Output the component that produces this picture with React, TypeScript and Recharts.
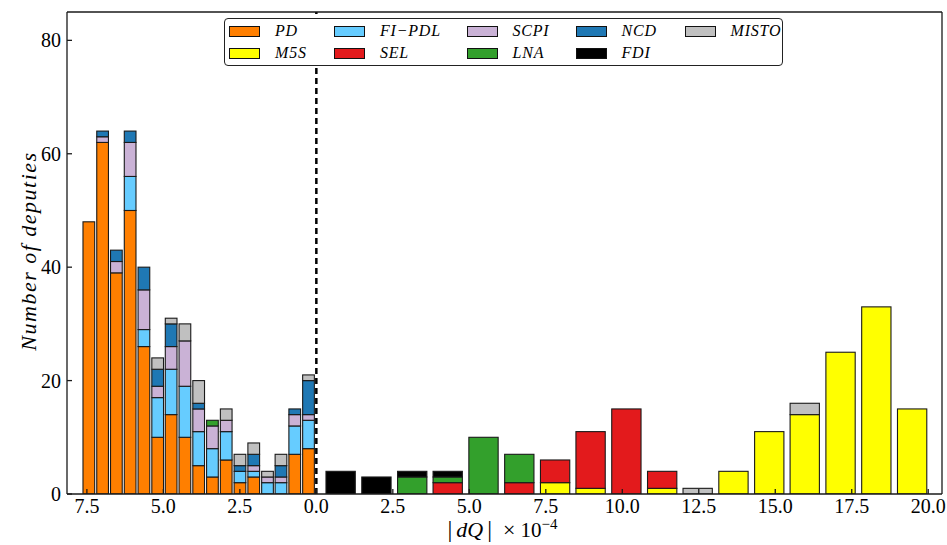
import React from 'react';
import { BarChart, Bar, XAxis, YAxis, ReferenceLine, Legend } from 'recharts';

// bin centres (left half is the mirrored side)
const binCenters = [
  -7.44, -6.99, -6.54, -6.09, -5.64, -5.19, -4.75, -4.3, -3.85, -3.4, -2.95, -2.5, -2.05, -1.6, -1.16, -0.71, -0.26,
  0.79, 1.96, 3.13, 4.29, 5.46, 6.63, 7.8, 8.96, 10.13, 11.3, 12.46, 13.63, 14.8, 15.96, 17.13, 18.3, 19.47,
];

const partyKeys = ['PD', 'M5S', 'FIPDL', 'SEL', 'SCPI', 'LNA', 'NCD', 'FDI', 'MISTO'];
const partyNames = ['PD', 'M5S', 'FI\u2212PDL', 'SEL', 'SCPI', 'LNA', 'NCD', 'FDI', 'MISTO'];
const partyColors = ['#ff7f00', '#ffff00', '#66ccff', '#e31a1c', '#cab2d6', '#33a02c', '#1f78b4', '#000000', '#c0c0c0'];

const PD = [48, 62, 39, 50, 26, 10, 14, 10, 5, 3, 6, 2, 3, 0, 0, 7, 8, 0, 0, 0, 0, 0, 0, 0, 0, 0, 0, 0, 0, 0, 0, 0, 0, 0];
const M5S = [0, 0, 0, 0, 0, 0, 0, 0, 0, 0, 0, 0, 0, 0, 0, 0, 0, 0, 0, 0, 0, 0, 0, 2, 1, 0, 1, 0, 4, 11, 14, 25, 33, 15];
const FIPDL = [0, 0, 0, 6, 3, 7, 8, 9, 6, 5, 5, 2, 1, 2, 2, 5, 5, 0, 0, 0, 0, 0, 0, 0, 0, 0, 0, 0, 0, 0, 0, 0, 0, 0];
const SEL = [0, 0, 0, 0, 0, 0, 0, 0, 0, 0, 0, 0, 0, 0, 0, 0, 0, 0, 0, 0, 2, 0, 2, 4, 10, 15, 3, 0, 0, 0, 0, 0, 0, 0];
const SCPI = [0, 1, 2, 6, 7, 2, 4, 8, 4, 4, 2, 0, 1, 1, 1, 2, 1, 0, 0, 0, 0, 0, 0, 0, 0, 0, 0, 0, 0, 0, 0, 0, 0, 0];
const LNA = [0, 0, 0, 0, 0, 0, 0, 0, 0, 1, 0, 0, 0, 0, 0, 0, 0, 0, 0, 3, 1, 10, 5, 0, 0, 0, 0, 0, 0, 0, 0, 0, 0, 0];
const NCD = [0, 1, 2, 2, 4, 3, 4, 0, 1, 0, 0, 1, 2, 0, 2, 1, 6, 0, 0, 0, 0, 0, 0, 0, 0, 0, 0, 0, 0, 0, 0, 0, 0, 0];
const FDI = [0, 0, 0, 0, 0, 0, 0, 0, 0, 0, 0, 0, 0, 0, 0, 0, 0, 4, 3, 1, 1, 0, 0, 0, 0, 0, 0, 0, 0, 0, 0, 0, 0, 0];
const MISTO = [0, 0, 0, 0, 0, 2, 1, 3, 4, 0, 2, 2, 2, 1, 2, 0, 1, 0, 0, 0, 0, 0, 0, 0, 0, 0, 0, 1, 0, 0, 2, 0, 0, 0];

const xTicks = [-7.5, -5, -2.5, 0, 2.5, 5, 7.5, 10, 12.5, 15, 17.5, 20];
const xTickLabels = ['7.5', '5.0', '2.5', '0.0', '2.5', '5.0', '7.5', '10.0', '12.5', '15.0', '17.5', '20.0'];
const yTicks = [0, 20, 40, 60, 80];

const series = [PD, M5S, FIPDL, SEL, SCPI, LNA, NCD, FDI, MISTO];
const rows = binCenters.map((x, i) => {
  const row: Record<string, number> = { x };
  partyKeys.forEach((k, j) => (row[k] = series[j][i]));
  return row;
});

const FONT = '"Liberation Serif", "DejaVu Serif", serif';
const EDGE = '#1a1a1a';
const X_DOMAIN = [-8.15, 20.45];

const BarShape = (props: any) => {
  const { x, y, width, height, fill, payload } = props;
  if (!height || height <= 0) return <g />;
  const w = payload.x < 0 ? 11.7 : 29.3;
  const cx = x + width / 2;
  return <rect x={cx - w / 2} y={y} width={w} height={height} fill={fill} stroke={EDGE} strokeWidth={1.1} />;
};

const fmtX = (v: number) => {
  const i = xTicks.indexOf(v);
  return i >= 0 ? xTickLabels[i] : '';
};

const XLabel = (props: any) => {
  const vb = props.viewBox;
  const cx = vb.x + vb.width / 2 - 2;
  return (
    <text x={cx} y={vb.y + 43} textAnchor="middle" fontFamily={FONT} fontSize={21} fill="#000">
      <tspan fontSize={24}>|</tspan>
      <tspan dx={4} fontStyle="italic" fontSize={22}>dQ</tspan>
      <tspan dx={4} fontSize={24}>|</tspan>
      <tspan dx={11} fontSize={22}>{'\u00d7'}</tspan>
      <tspan dx={5}>10</tspan>
      <tspan dy={-8} fontSize={15}>{'\u22124'}</tspan>
    </text>
  );
};

const YLabel = (props: any) => {
  const vb = props.viewBox;
  const x = vb.x + 11;
  const y = vb.y + vb.height / 2 - 2;
  return (
    <text
      x={x}
      y={y}
      transform={`rotate(-90, ${x}, ${y})`}
      textAnchor="middle"
      dominantBaseline="central"
      fontFamily={FONT}
      fontStyle="italic"
      fontSize={22}
      letterSpacing={1.5}
      fill="#000"
    >
      Number of deputies
    </text>
  );
};

const LegendBox = () => (
  <div
    style={{
      border: '1px solid #222',
      borderRadius: 4,
      background: '#fff',
      height: 48,
      boxSizing: 'border-box',
      padding: '1px 0 0 4px',
      display: 'grid',
      gridAutoFlow: 'column',
      gridTemplateRows: '22px 22px',
      gridTemplateColumns: '105px 132.5px 109px 109px auto',
      alignItems: 'center',
    }}
  >
    {partyNames.map((n, i) => (
      <div key={n} style={{ display: 'flex', alignItems: 'center' }}>
        <span
          style={{
            width: 31,
            height: 11,
            boxSizing: 'border-box',
            background: partyColors[i],
            border: '1px solid #111',
            display: 'inline-block',
          }}
        />
        <span
          style={{
            marginLeft: 15,
            fontFamily: FONT,
            fontStyle: 'italic',
            fontSize: 16,
            letterSpacing: 0.8,
            lineHeight: 1,
            color: '#000',
          }}
        >
          {n}
        </span>
      </div>
    ))}
  </div>
);

export default function App() {
  return (
    <div style={{ position: 'fixed', left: 0, top: 0, width: 947, height: 545, background: '#fff' }}>
      <BarChart width={947} height={545} data={rows} margin={{ top: 11, right: 4, left: 17, bottom: 11 }}>
        <XAxis
          type="number"
          dataKey="x"
          domain={X_DOMAIN}
          allowDataOverflow
          ticks={xTicks}
          interval={0}
          tickFormatter={fmtX}
          tickSize={-5}
          tickMargin={10}
          height={40}
          stroke={EDGE}
          strokeWidth={1.3}
          tick={{ fill: '#000', fontSize: 20, fontFamily: FONT }}
          label={<XLabel />}
        />
        <XAxis
          xAxisId="top"
          orientation="top"
          type="number"
          domain={X_DOMAIN}
          allowDataOverflow
          ticks={xTicks}
          interval={0}
          tick={false}
          tickSize={-5}
          height={1}
          stroke={EDGE}
          strokeWidth={1.3}
        />
        <YAxis
          type="number"
          domain={[0, 85]}
          allowDataOverflow
          ticks={yTicks}
          interval={0}
          tickSize={-5}
          tickMargin={11}
          width={50}
          stroke={EDGE}
          strokeWidth={1.3}
          tick={{ fill: '#000', fontSize: 20, fontFamily: FONT }}
          label={<YLabel />}
        />
        <YAxis
          yAxisId="right"
          orientation="right"
          type="number"
          domain={[0, 85]}
          allowDataOverflow
          ticks={yTicks}
          interval={0}
          tick={false}
          tickSize={-5}
          width={1}
          stroke={EDGE}
          strokeWidth={1.3}
        />
        <Legend
          layout="vertical"
          align="center"
          verticalAlign="middle"
          wrapperStyle={{ left: 224, top: 18, width: 559 }}
          content={<LegendBox />}
        />
        {partyKeys.map((k, i) => (
          <Bar
            key={k}
            dataKey={k}
            name={partyNames[i]}
            stackId="s"
            fill={partyColors[i]}
            shape={BarShape}
            isAnimationActive={false}
          />
        ))}
        <ReferenceLine x={0} stroke="#000" strokeWidth={2.5} strokeDasharray="6 4" />
      </BarChart>
    </div>
  );
}
